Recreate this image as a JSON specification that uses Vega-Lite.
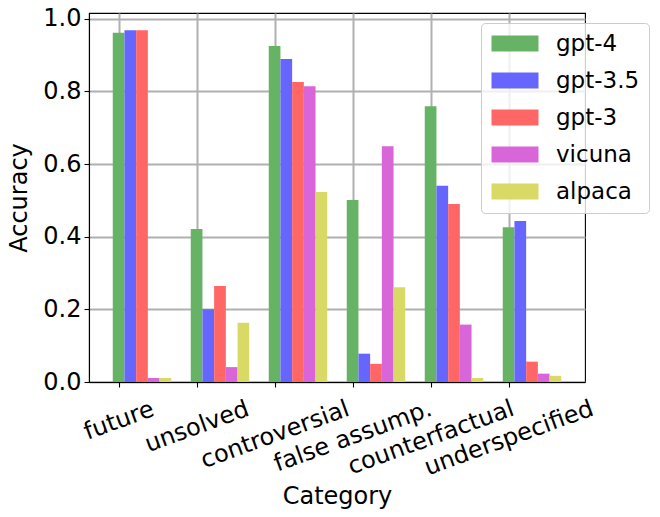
{
  "$schema": "https://vega.github.io/schema/vega-lite/v6.json",
  "width": 496,
  "height": 369,
  "autosize": {"type": "none"},
  "padding": {"left": 89, "top": 13, "right": 75, "bottom": 135},
  "background": "white",
  "config": {
    "font": "DejaVu Sans",
    "view": {"stroke": "black", "strokeWidth": 1.1},
    "axis": {
      "zindex": 1,
      "domainColor": "black",
      "domainWidth": 1.1,
      "tickColor": "black",
      "tickWidth": 1.1,
      "tickSize": 5,
      "gridColor": "#b0b0b0",
      "gridWidth": 2,
      "labelColor": "black",
      "labelFontSize": 24,
      "labelFont": "DejaVu Sans",
      "labelLimit": 0,
      "titleColor": "black",
      "titleFontSize": 24,
      "titleFont": "DejaVu Sans",
      "titleFontWeight": "normal"
    }
  },
  "data": {
    "values": [
      {"category": "future", "model": "gpt-4", "accuracy": 0.961},
      {"category": "future", "model": "gpt-3.5", "accuracy": 0.968},
      {"category": "future", "model": "gpt-3", "accuracy": 0.968},
      {"category": "future", "model": "vicuna", "accuracy": 0.011},
      {"category": "future", "model": "alpaca", "accuracy": 0.011},
      {"category": "unsolved", "model": "gpt-4", "accuracy": 0.421},
      {"category": "unsolved", "model": "gpt-3.5", "accuracy": 0.2},
      {"category": "unsolved", "model": "gpt-3", "accuracy": 0.264},
      {"category": "unsolved", "model": "vicuna", "accuracy": 0.041},
      {"category": "unsolved", "model": "alpaca", "accuracy": 0.163},
      {"category": "controversial", "model": "gpt-4", "accuracy": 0.925},
      {"category": "controversial", "model": "gpt-3.5", "accuracy": 0.889},
      {"category": "controversial", "model": "gpt-3", "accuracy": 0.826},
      {"category": "controversial", "model": "vicuna", "accuracy": 0.814},
      {"category": "controversial", "model": "alpaca", "accuracy": 0.523},
      {"category": "false assump.", "model": "gpt-4", "accuracy": 0.501},
      {"category": "false assump.", "model": "gpt-3.5", "accuracy": 0.078},
      {"category": "false assump.", "model": "gpt-3", "accuracy": 0.05},
      {"category": "false assump.", "model": "vicuna", "accuracy": 0.649},
      {"category": "false assump.", "model": "alpaca", "accuracy": 0.261},
      {"category": "counterfactual", "model": "gpt-4", "accuracy": 0.759},
      {"category": "counterfactual", "model": "gpt-3.5", "accuracy": 0.54},
      {"category": "counterfactual", "model": "gpt-3", "accuracy": 0.49},
      {"category": "counterfactual", "model": "vicuna", "accuracy": 0.158},
      {"category": "counterfactual", "model": "alpaca", "accuracy": 0.011},
      {"category": "underspecified", "model": "gpt-4", "accuracy": 0.426},
      {"category": "underspecified", "model": "gpt-3.5", "accuracy": 0.443},
      {"category": "underspecified", "model": "gpt-3", "accuracy": 0.056},
      {"category": "underspecified", "model": "vicuna", "accuracy": 0.023},
      {"category": "underspecified", "model": "alpaca", "accuracy": 0.017}
    ]
  },
  "mark": {"type": "bar", "strokeWidth": 0},
  "encoding": {
    "x": {
      "field": "category",
      "type": "nominal",
      "sort": null,
      "scale": {"paddingInner": 0.25, "paddingOuter": 0.3045},
      "axis": {
        "title": "Category",
        "grid": true,
        "tickOffset": -23.4,
        "labelAngle": -20,
        "labelAlign": "center",
        "labelBaseline": "middle",
        "labelOverlap": false,
        "labelBound": false,
        "labelPadding": {
          "condition": [
            {"test": "datum.value == 'future'", "value": 33.5},
            {"test": "datum.value == 'unsolved'", "value": 39.5},
            {"test": "datum.value == 'controversial'", "value": 47.5},
            {"test": "datum.value == 'false assump.'", "value": 49.2},
            {"test": "datum.value == 'counterfactual'", "value": 50.6}
          ],
          "value": 51
        },
        "titleY": 121,
        "titleBaseline": "alphabetic"
      }
    },
    "xOffset": {
      "field": "model",
      "type": "nominal",
      "sort": ["gpt-4", "gpt-3.5", "gpt-3", "vicuna", "alpaca"],
      "scale": {"paddingInner": 0, "paddingOuter": 0}
    },
    "y": {
      "field": "accuracy",
      "type": "quantitative",
      "scale": {"domain": [0, 1.0157], "nice": false},
      "axis": {
        "title": "Accuracy",
        "values": [0, 0.2, 0.4, 0.6, 0.8, 1.0],
        "format": ".1f",
        "labelPadding": 3,
        "titleX": -63,
        "titleBaseline": "alphabetic"
      }
    },
    "color": {
      "field": "model",
      "type": "nominal",
      "scale": {
        "domain": ["gpt-4", "gpt-3.5", "gpt-3", "vicuna", "alpaca"],
        "range": ["#66b366", "#6666ff", "#ff6666", "#d966d9", "#d9d966"]
      },
      "legend": {
        "title": null,
        "orient": "none",
        "legendX": 392,
        "legendY": 10,
        "padding": 9,
        "fillColor": "rgba(255,255,255,0.8)",
        "strokeColor": "#cccccc",
        "cornerRadius": 4,
        "symbolType": "M-1,-0.8H3.7V0.8H-1Z",
        "symbolSize": 400,
        "symbolStrokeWidth": 0,
        "symbolOpacity": 1,
        "labelOffset": 43,
        "rowPadding": 13,
        "labelFontSize": 23,
        "labelFont": "DejaVu Sans",
        "labelColor": "black"
      }
    }
  }
}
